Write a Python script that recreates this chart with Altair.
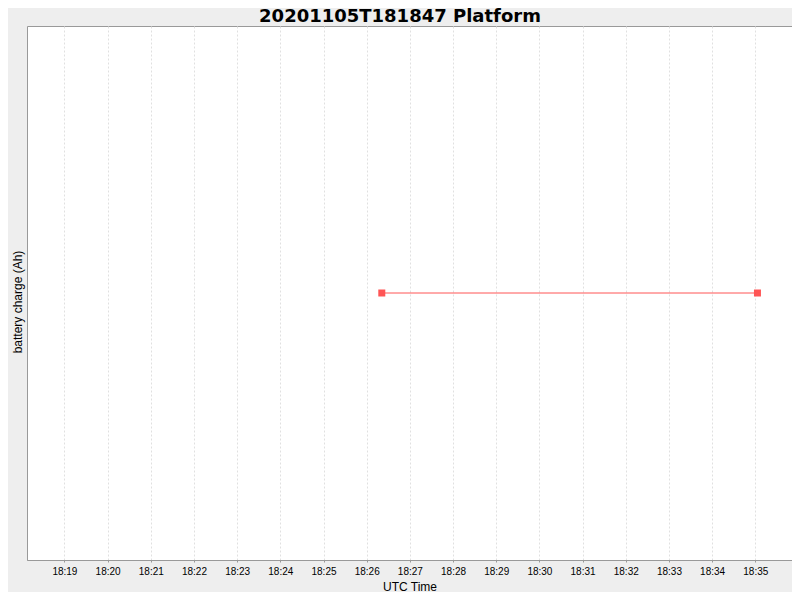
import altair as alt
import pandas as pd

# Data
times = ["2020-11-05T18:26:21Z", "2020-11-05T18:35:03Z"]
charge = [0.0, 0.0]
tick_minutes = [19, 20, 21, 22, 23, 24, 25, 26, 27, 28, 29, 30, 31, 32, 33, 34, 35]
x_start = (18, 18, 8)
x_end = (18, 35, 51)
y_domain = [-1.0, 1.0]
title_text = "20201105T181847 Platform"

df = pd.DataFrame({"time": times, "charge": charge})
title_df = pd.DataFrame({"t": [title_text]})

tick_values = [alt.DateTime(year=2020, month=11, date=5, hours=18, minutes=m, utc=True)
               for m in tick_minutes]
x_dom = [
    alt.DateTime(year=2020, month=11, date=5, hours=x_start[0], minutes=x_start[1], seconds=x_start[2], utc=True),
    alt.DateTime(year=2020, month=11, date=5, hours=x_end[0], minutes=x_end[1], seconds=x_end[2], utc=True),
]

red = "#FF5555"

x_enc = alt.X(
    "time:T",
    scale=alt.Scale(type="utc", domain=x_dom),
    axis=alt.Axis(
        title="UTC Time",
        values=tick_values,
        labelExpr="utcFormat(datum.value, '%H:%M')",
        labelFont="Liberation Sans",
        labelFontSize=10,
        labelColor="#000000",
        labelBaseline="alphabetic",
        labelPadding=12,
        tickSize=2,
        tickColor="#999999",
        domainColor="#999999",
        grid=True,
        gridDash=[2, 2],
        gridColor="#E0E0E0",
        titleFont="Liberation Sans",
        titleFontSize=12,
        titleFontWeight="normal",
        titleColor="#000000",
        titleBaseline="alphabetic",
        titleY=30,
    ),
)

y_enc = alt.Y(
    "charge:Q",
    scale=alt.Scale(domain=y_domain),
    axis=alt.Axis(
        title="battery charge (Ah)",
        labels=False,
        ticks=False,
        grid=False,
        domain=False,
        titleFont="Liberation Sans",
        titleFontSize=12,
        titleFontWeight="normal",
        titleColor="#000000",
        titleAngle=270,
        titleAlign="center",
        titleBaseline="alphabetic",
        titleX=-6,
        titleY=275.5,
    ),
)

base = alt.Chart(df).encode(x=x_enc, y=y_enc)
line = base.mark_line(color=red, strokeWidth=1)
pts = base.mark_square(color=red, size=49, opacity=1, filled=True)

title_mark = alt.Chart(title_df).mark_text(
    font="DejaVu Sans",
    fontSize=18,
    fontWeight="bold",
    color="#000000",
    align="center",
    baseline="alphabetic",
).encode(text="t:N", x=alt.value(373), y=alt.value(-4))

chart = (
    alt.layer(line, pts, title_mark)
    .properties(
        width=765,
        height=534,
        autosize=alt.AutoSizeParams(type="none"),
        padding={"left": 19, "top": 18, "right": 0, "bottom": 32},
        background="#EEEEEE",
    )
    .configure_view(fill="#FFFFFF", stroke="#999999", strokeWidth=1)
)

chart.save("out.html", embed_options={"renderer": "svg", "actions": False})
